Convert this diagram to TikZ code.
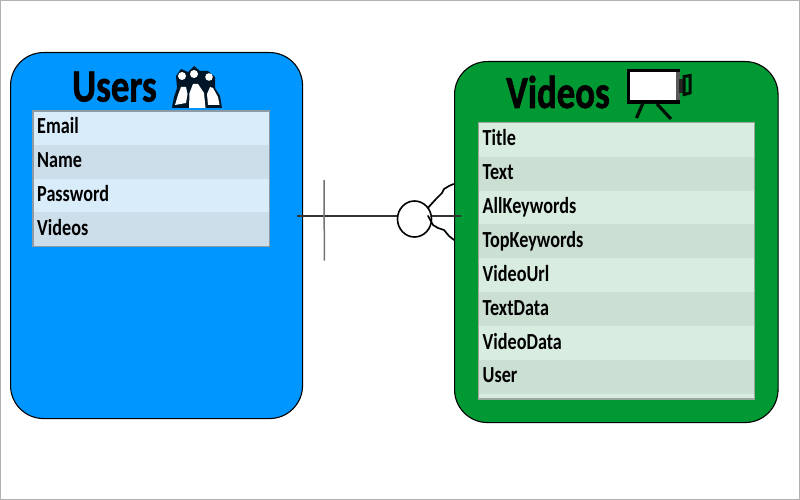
\documentclass[tikz,border=0pt]{standalone}
\usepackage{fontspec}
\usetikzlibrary{shapes.geometric}
\newfontfamily\rowfont{Carlito Bold}[FakeStretch=0.79]
\newfontfamily\headfont{Carlito Bold}[FakeStretch=0.8,FakeBold=1.2]
\definecolor{ublue}{HTML}{0096FF}
\definecolor{vgreen}{HTML}{009933}
\definecolor{urowa}{HTML}{D9ECF9}
\definecolor{urowb}{HTML}{CBDEEA}
\definecolor{vrowa}{HTML}{D9ECE0}
\definecolor{vrowb}{HTML}{CCDFD3}
\tikzset{
  x=1pt,y=-1pt,
  entity/.style={draw=black,line width=1.1pt,rounded corners=33pt,anchor=north west,inner sep=0pt},
  titletext/.style={font=\headfont\fontsize{46}{46}\selectfont,text=black,inner sep=0pt},
  rowbase/.style={anchor=north west,inner sep=0pt,text=black,
    font=\rowfont\fontsize{23}{23}\selectfont,align=left,text height=15pt,text depth=3pt},
  urow/.style={rowbase,minimum height=33.8pt,minimum width=236pt,text width=228pt},
  vrow/.style={rowbase,minimum height=33.9pt,minimum width=276pt,text width=268pt},
  frameline/.style={draw=#1,line width=1.8pt},
  link/.style={draw=black!80,line width=1.6pt},
  bar/.style={draw=black!55,line width=1.5pt},
  foot/.style={draw=black,line width=1.7pt,line cap=round,line join=round},
}
\begin{document}
\begin{tikzpicture}
\useasboundingbox (0,0) rectangle (800,500);
\fill[white] (0,0) rectangle (800,500);
\draw[draw=black!30,line width=1pt] (0.5,0.5) rectangle (799.5,499.5);

% Users entity
\node[entity,fill=ublue,minimum width=292pt,minimum height=366pt] (users) at (10,52) {};
\node[titletext,anchor=base west] (utitle) at (72,101.5) {Users};
\foreach \y/\c/\t [count=\i] in {110.8/urowa/Email,144.6/urowb/Name,178.4/urowa/Password,212.2/urowb/Videos}
  \node[urow,fill=\c] (u\i) at (33,\y) {\t};
\draw[frameline=black!30!urowb] (u1.north west) rectangle (u4.south east);

% Users icon
\begin{scope}
  \fill[black!85!ublue] (172,107) -- (174,97) -- (177,88) -- (176,76) -- (181,69) -- (188,72) -- (194,66) -- (200,71) -- (208,71) -- (215,77) -- (215,88) -- (220,96) -- (222,108) -- (172,108) -- cycle;
  \fill[white] (182,76) circle (4);
  \fill[white] (194,74) circle (4);
  \fill[white] (209,77) circle (3.8);
  \fill[white] (175,105) -- (178,95) -- (181,87) -- (186,87) -- (187.5,94) -- (186,103) -- cycle;
  \fill[white] (189,108) -- (189.5,93) -- (193,84) -- (198,84) -- (204,93) -- (205.5,108) -- cycle;
  \fill[white] (208,105) -- (207,94) -- (210,87) -- (213,88) -- (218,97) -- (219.5,105) -- cycle;
\end{scope}

% Videos entity
\node[entity,fill=vgreen,minimum width=323.5pt,minimum height=361pt] (videos) at (454,61) {};
\node[titletext,anchor=base west] (vtitle) at (506,108) {Videos};
\fill[vrowa] (478.5,122.5) rectangle (755,399);
\foreach \y/\c/\t [count=\i] in {122.5/vrowa/Title,156.4/vrowb/Text,190.3/vrowa/AllKeywords,224.2/vrowb/TopKeywords,258.1/vrowa/VideoUrl,292/vrowb/TextData,325.9/vrowa/VideoData,359.8/vrowb/User}
  \node[vrow,fill=\c] (v\i) at (478.5,\y) {\t};
\coordinate (vcorner) at (754.5,399);
\draw[frameline=black!25!vrowb] (v1.north west) rectangle (vcorner);

% Videos icon
\draw[black,line width=3.4pt,fill=white] (628.7,70.8) rectangle (678,102);
\fill[black!65] (675.5,72.5) rectangle (680,100.5);
\fill[black!85] (679,79) rectangle (683,93);
\draw[black!90!vgreen,line width=3pt] (684,76.5) -- (690,75.5) -- (690,93) -- (684,94.5) -- cycle;
\draw[black!90!vgreen,line width=3.2pt] (643,103) -- (636.5,118);
\draw[black!90!vgreen,line width=3.2pt] (657,104) -- (671,119);
\draw[black!90!vgreen,line width=1.8pt] (643,103.5) -- (657,103.5);

% Relationship
\coordinate (linkstart) at (297,215.7);
\coordinate (linkend) at (461,215.7);
\coordinate (bartop) at (324,180);
\coordinate (barbot) at (324.4,260.5);
\draw[link] (linkstart) -- (linkend);
\draw[bar] (bartop) -- (barbot);
\node[draw=black,line width=1.6pt,fill=white,ellipse,minimum width=34pt,minimum height=36pt,inner sep=0pt] (opt) at (414.5,219) {};
\coordinate (foota) at (453.5,184);
\coordinate (footb) at (454,240);
\draw[foot] (opt.40) -- (436,199) -- (442,193) -- (444,189) -- (449,186) -- (foota);
\draw[foot] (opt.10) ++(-4,0) -- (433,225) -- (438,228) -- (444,230) -- (449,236) -- (footb);
\end{tikzpicture}
\end{document}
